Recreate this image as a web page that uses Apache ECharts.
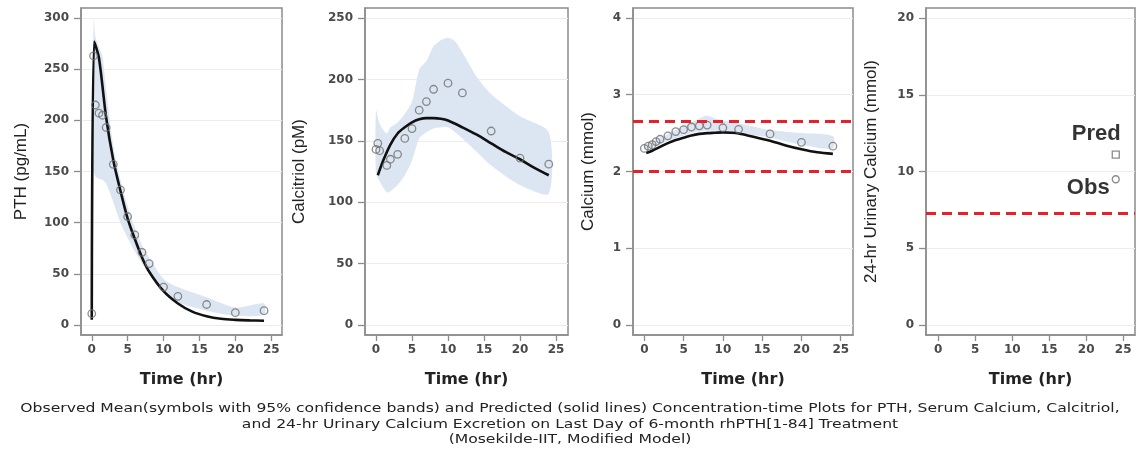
<!DOCTYPE html>
<html>
<head>
<meta charset="utf-8">
<script src="https://cdn.jsdelivr.net/npm/echarts@6/dist/echarts.min.js"></script>
<style>html,body{margin:0;padding:0;background:#fff}#c{width:1136px;height:451px}</style>
</head>
<body>
<div id="c"></div>
<script>
// ---------- DATA ----------
const xTicks = [0, 5, 10, 15, 20, 25];
const yTicksPTH = [0, 50, 100, 150, 200, 250, 300];
const yTicksCalcitriol = [0, 50, 100, 150, 200, 250];
const yTicksCalcium = [0, 1, 2, 3, 4];
const yTicksUrine = [0, 5, 10, 15, 20];

// PTH
const pthObsT = [0, 0.25, 0.5, 1, 1.5, 2, 3, 4, 5, 6, 7, 8, 10, 12, 16, 20, 24];
const pthObsV = [11, 263, 215, 207, 205, 193, 157, 132, 106, 88, 71, 60, 37, 28, 20, 12, 14];
const pthPredT = [0, 0.33, 1, 2, 3, 4, 5, 6, 7, 8, 10, 12, 14, 16, 18, 20, 22, 24];
const pthPredV = [5, 277, 261, 203, 161, 131, 104, 84, 66, 52, 33, 21, 13, 8.5, 6, 5, 4.5, 4.2];
const pthBandT = [0, 0.25, 0.5, 1, 1.5, 2, 3, 4, 5, 6, 7, 8, 10, 12, 16, 20, 24];
const pthBandLo = [5, 150, 145, 143, 142, 138, 120, 100, 85, 72, 60, 50, 32, 22, 14, 9, 10];
const pthBandHi = [17, 300, 282, 272, 262, 230, 175, 142, 116, 95, 78, 66, 45, 37, 27, 17, 21];

// Calcitriol
const calObsT = [0, 0.25, 0.5, 1.5, 2, 3, 4, 5, 6, 7, 8, 10, 12, 16, 20, 24];
const calObsV = [143, 148, 142, 130, 135, 139, 152, 160, 175, 182, 192, 197, 189, 158, 136, 131];
const calPredT = [0.25, 1, 2, 3, 4, 5, 6, 7, 8, 9, 10, 12, 14, 16, 18, 20, 22, 24];
const calPredV = [122, 134, 147, 156, 161, 165, 167.5, 168.5, 168.5, 168, 166.5, 161, 155, 148, 141, 135, 128, 122];
const calBandT = [0, 0.5, 1.5, 2, 3, 4, 5, 6, 7, 8, 9, 10, 11, 12, 14, 16, 20, 24];
const calBandLo = [124, 117, 108, 109, 114, 122, 134, 152, 157, 160, 161, 161, 157, 152, 141, 130, 114, 107];
const calBandHi = [175, 164, 156, 161, 165, 172, 182, 208, 215, 227, 232, 234, 231, 222, 202, 188, 170, 157];

// Serum calcium
const caObsT = [0, 0.5, 1, 1.5, 2, 3, 4, 5, 6, 7, 8, 10, 12, 16, 20, 24];
const caObsV = [2.30, 2.33, 2.35, 2.39, 2.42, 2.465, 2.52, 2.545, 2.58, 2.595, 2.605, 2.57, 2.55, 2.49, 2.38, 2.33];
const caPredT = [0.25, 1, 2, 3, 4, 5, 6, 7, 8, 9, 10, 11, 12, 14, 16, 18, 20, 22, 24];
const caPredV = [2.24, 2.27, 2.32, 2.37, 2.41, 2.44, 2.47, 2.49, 2.50, 2.505, 2.51, 2.505, 2.495, 2.45, 2.40, 2.34, 2.29, 2.25, 2.23];
const caBandT = [0, 3, 6, 7, 8, 9, 10, 12, 16, 20, 24];
const caBandLo = [2.28, 2.40, 2.50, 2.52, 2.53, 2.53, 2.52, 2.50, 2.44, 2.35, 2.30];
const caBandHi = [2.33, 2.49, 2.64, 2.69, 2.73, 2.69, 2.66, 2.63, 2.54, 2.50, 2.46];
const caRefLines = [2.65, 2.0];

// 24-hr urinary calcium
const urPredT = [24];
const urPredV = [11.1];
const urObsT = [24];
const urObsV = [9.5];
const urRefLines = [7.3];

const caption = 'Observed Mean(symbols with 95% confidence bands) and Predicted (solid lines) Concentration-time Plots for PTH, Serum Calcium, Calcitriol,\nand 24-hr Urinary Calcium Excretion on Last Day of 6-month rhPTH[1-84] Treatment\n(Mosekilde-IIT, Modified Model)';

// ---------- STYLE ----------
const BAND = '#dce6f2';
const BORDER = '#8c8c8c';
const GRIDLINE = '#ececec';
const TICKFONT = {fontFamily: 'DejaVu Sans', fontSize: 12, fontWeight: 'bold', color: '#4a4a4a'};

function pairs(t, v) { return t.map((x, i) => [x, v[i]]); }

const panels = [
  {left: 81, right: 282, xmin: -1.5, xmax: 26.5, ymin: -9.8, ymax: 309.8, yTicks: yTicksPTH, name: 'PTH (pg/mL)', gap: 51},
  {left: 365, right: 568, xmin: -1.53, xmax: 26.67, ymin: -8.15, ymax: 258.2, yTicks: yTicksCalcitriol, name: 'Calcitriol (pM)', gap: 57},
  {left: 633, right: 853, xmin: -1.44, xmax: 26.56, ymin: -0.13, ymax: 4.13, yTicks: yTicksCalcium, name: 'Calcium (mmol)', gap: 36},
  {left: 926, right: 1135, xmin: -1.66, xmax: 26.6, ymin: -0.65, ymax: 20.66, yTicks: yTicksUrine, name: '24-hr Urinary Calcium (mmol)', gap: 46}
];

const grid = panels.map(p => ({
  left: p.left, width: p.right - p.left, top: 8, height: 327,
  show: true, borderColor: BORDER, borderWidth: 1.5, backgroundColor: '#fff'
}));

const xAxis = panels.map((p, i) => ({
  type: 'value', gridIndex: i, min: p.xmin, max: p.xmax,
  name: 'Time (hr)', nameLocation: 'middle', nameGap: 37,
  nameTextStyle: {fontFamily: 'DejaVu Sans', fontSize: 16, fontWeight: 'bold', color: '#222'},
  axisLine: {show: true, onZero: false, lineStyle: {color: BORDER, width: 1.5}},
  axisTick: {show: true, length: 6, customValues: xTicks, lineStyle: {color: BORDER, width: 1.3}},
  axisLabel: {show: true, customValues: xTicks, margin: 9, ...TICKFONT},
  splitLine: {show: false}
}));

const yAxis = panels.map((p, i) => ({
  type: 'value', gridIndex: i, min: p.ymin, max: p.ymax,
  name: p.name, nameLocation: 'middle', nameGap: p.gap, nameRotate: 90,
  nameTextStyle: {fontFamily: 'Liberation Sans', fontSize: 17, color: '#222'},
  axisLine: {show: true, onZero: false, lineStyle: {color: BORDER, width: 1.5}},
  axisTick: {show: true, length: 7, customValues: p.yTicks, lineStyle: {color: BORDER, width: 1.3}},
  axisLabel: {show: true, customValues: p.yTicks, margin: 12, ...TICKFONT},
  splitLine: {show: true, lineStyle: {color: GRIDLINE, width: 1.2}}
}));

function band(i, t, lo, hi) {
  return {
    type: 'custom', xAxisIndex: i, yAxisIndex: i, z: 1, silent: true,
    data: [[t[0], lo[0]]],
    renderItem: function (params, api) {
      const pts = [];
      for (let k = 0; k < t.length; k++) pts.push(api.coord([t[k], hi[k]]));
      for (let k = t.length - 1; k >= 0; k--) pts.push(api.coord([t[k], lo[k]]));
      return {type: 'polygon', shape: {points: pts, smooth: 0.25}, style: {fill: BAND}};
    }
  };
}
function predLine(i, t, v) {
  return {type: 'line', xAxisIndex: i, yAxisIndex: i, z: 3, data: pairs(t, v), smooth: 0.3,
    showSymbol: false, lineStyle: {color: '#111', width: 2.6}, silent: true};
}
function obs(i, t, v) {
  return {type: 'scatter', xAxisIndex: i, yAxisIndex: i, z: 4, data: pairs(t, v), symbol: 'circle', symbolSize: 7.5,
    itemStyle: {color: 'rgba(255,255,255,0)', borderColor: '#6f6f6f', borderWidth: 1.3}, silent: true};
}
function refLines(i, vals) {
  return {type: 'line', xAxisIndex: i, yAxisIndex: i, data: [], z: 5,
    markLine: {silent: true, symbol: 'none', label: {show: false},
      lineStyle: {color: '#e8202a', type: [10, 6], width: 2.8},
      data: vals.map(v => ({yAxis: v}))}};
}

const series = [
  band(0, pthBandT, pthBandLo, pthBandHi),
  predLine(0, pthPredT, pthPredV),
  obs(0, pthObsT, pthObsV),
  band(1, calBandT, calBandLo, calBandHi),
  predLine(1, calPredT, calPredV),
  obs(1, calObsT, calObsV),
  band(2, caBandT, caBandLo, caBandHi),
  predLine(2, caPredT, caPredV),
  obs(2, caObsT, caObsV),
  refLines(2, caRefLines),
  refLines(3, urRefLines),
  {type: 'scatter', xAxisIndex: 3, yAxisIndex: 3, z: 4, data: pairs(urPredT, urPredV), symbol: 'rect', symbolSize: 7,
    itemStyle: {color: 'rgba(255,255,255,0)', borderColor: '#6f6f6f', borderWidth: 1.3},
    label: {show: true, formatter: 'Pred', position: 'top', distance: 6, align: 'right', offset: [5, 0],
      fontFamily: 'Liberation Sans', fontWeight: 'bold', fontSize: 22, color: '#000'}},
  {type: 'scatter', xAxisIndex: 3, yAxisIndex: 3, z: 4, data: pairs(urObsT, urObsV), symbol: 'circle', symbolSize: 7,
    itemStyle: {color: 'rgba(255,255,255,0)', borderColor: '#6f6f6f', borderWidth: 1.3},
    label: {show: true, formatter: 'Obs', position: 'left', distance: 2, offset: [0, 9],
      fontFamily: 'Liberation Sans', fontWeight: 'bold', fontSize: 22, color: '#000'}}
];

const chart = echarts.init(document.getElementById('c'), null, {renderer: 'canvas'});
chart.setOption({
  animation: false,
  backgroundColor: '#fff',
  graphic: [{
    type: 'text', x: 570, y: 401, scaleX: 1.2, silent: true,
    style: {text: caption, font: '13px "DejaVu Sans"', fill: '#222', textAlign: 'center', textVerticalAlign: 'top', lineHeight: 15.5}
  }],
  grid, xAxis, yAxis, series
});
</script>
</body>
</html>
